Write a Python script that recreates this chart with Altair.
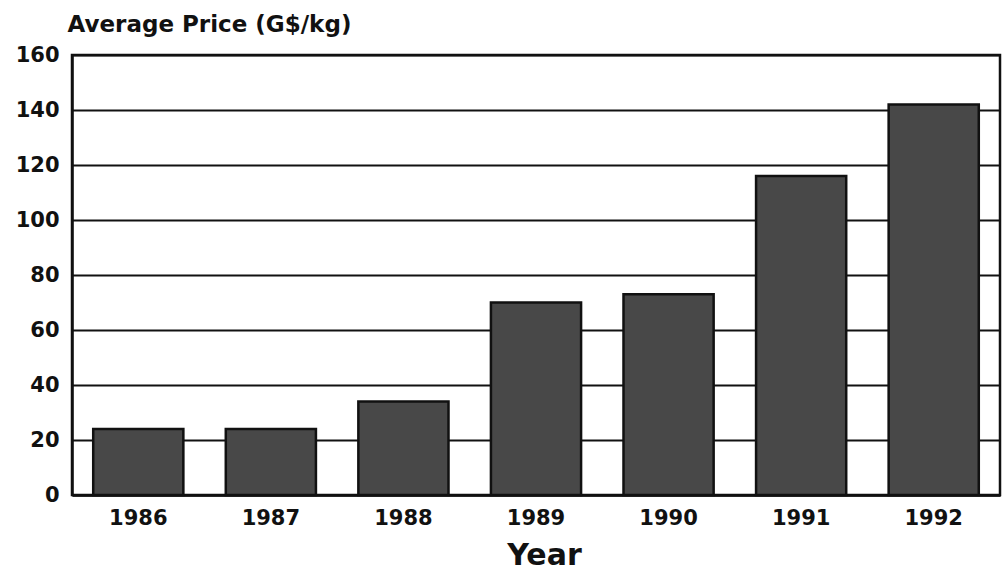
import altair as alt
import pandas as pd

years = ["1986", "1987", "1988", "1989", "1990", "1991", "1992"]
prices = [24, 24, 34, 70, 73, 116, 142]
y_ticks = [0, 20, 40, 60, 80, 100, 120, 140, 160]

df = pd.DataFrame({"Year": years, "Price": prices})

FONT = "DejaVu Sans"

bars = alt.Chart(df).mark_bar(
    color="#484848", stroke="#111111", strokeWidth=2.5
).encode(
    x=alt.X("Year:N", sort=years,
            scale=alt.Scale(paddingInner=0.32, paddingOuter=0.16),
            axis=alt.Axis(title="Year", labelAngle=0, labelFontSize=21,
                          labelFont=FONT, labelFontWeight="bold",
                          labelColor="#111111", labelPadding=12,
                          ticks=False, domain=True, domainColor="#111111",
                          domainWidth=2.5,
                          titleFont=FONT, titleFontSize=30,
                          titleFontWeight="bold", titleColor="#111111",
                          titlePadding=12, titleX=472)),
    y=alt.Y("Price:Q",
            scale=alt.Scale(domain=[0, 160], nice=False),
            axis=alt.Axis(title="Average Price (G$/kg)", values=y_ticks,
                          labelFontSize=21, labelFont=FONT,
                          labelFontWeight="bold", labelColor="#111111",
                          labelPadding=13, ticks=False,
                          grid=True, gridColor="#111111", gridWidth=2,
                          domain=True, domainColor="#111111", domainWidth=2.5,
                          titleAngle=0, titleAlign="left",
                          titleBaseline="bottom", titleX=-5, titleY=-19,
                          titleFont=FONT, titleFontSize=23,
                          titleFontWeight="bold", titleColor="#111111")),
)

chart = bars.properties(
    width=928, height=440,
    padding={"left": 72, "top": 55, "right": 4, "bottom": 76},
    autosize=alt.AutoSizeParams(type="none"),
    background="white",
).configure_view(stroke="#111111", strokeWidth=2.5)

chart.save("out.html", embed_options={"renderer": "svg", "actions": False})
